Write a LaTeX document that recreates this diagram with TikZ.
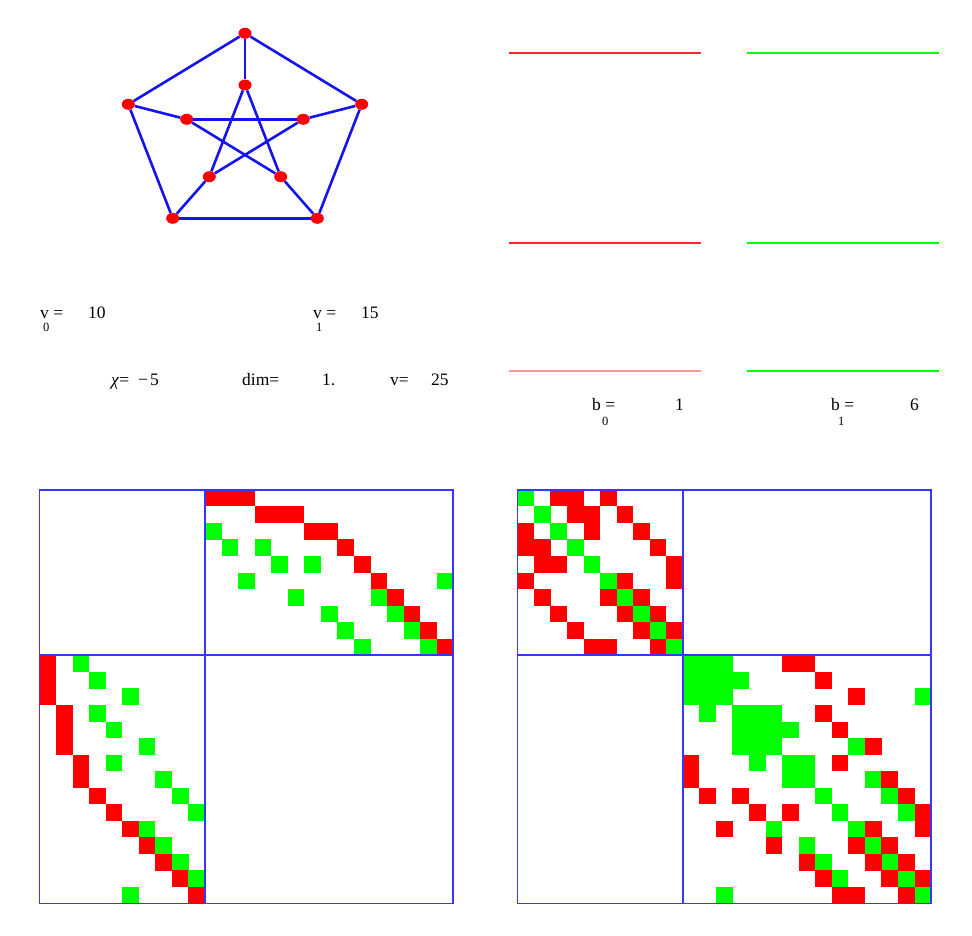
\documentclass[tikz,border=0pt]{standalone}
\usepackage{fontspec}
\setmainfont{Liberation Serif}
\usetikzlibrary{shapes.geometric}
\definecolor{cr}{RGB}{255,0,0}
\definecolor{cg}{RGB}{0,255,0}
\definecolor{eb}{RGB}{20,20,235}
\definecolor{fb}{RGB}{55,55,255}
\newcommand\mcell[5]{\fill[#5] ({#1+(#4)*16.55},{#2+(#3)*16.55}) rectangle ++(16.65,16.65);}
\begin{document}
\begin{tikzpicture}[x=1pt,y=-1pt,
  vdot/.style={ellipse, fill=cr, minimum width=13pt, minimum height=11pt, inner sep=0pt},
  gedge/.style={eb, line width=2.6pt},
  lbl/.style={anchor=base west, inner sep=0pt, font=\fontsize{17.5}{20}\selectfont},
  sublbl/.style={anchor=base west, inner sep=0pt, font=\fontsize{12.5}{14}\selectfont},
  frame/.style={fb, line width=1.6pt}]
\useasboundingbox (0,0) rectangle (972,935);
\fill[white] (0,0) rectangle (972,935);
% Petersen graph
\node[vdot] (o1) at (245,33.3) {};
\node[vdot] (o2) at (361.7,104.3) {};
\node[vdot] (o3) at (317.3,218.3) {};
\node[vdot] (o4) at (172.7,218.3) {};
\node[vdot] (o5) at (128.3,104.3) {};
\node[vdot] (i1) at (245,85) {};
\node[vdot] (i2) at (303.3,119.3) {};
\node[vdot] (i3) at (280.7,176.7) {};
\node[vdot] (i4) at (209.3,176.7) {};
\node[vdot] (i5) at (186.7,119.3) {};
\draw[gedge] (o1) -- (o2);
\draw[gedge] (o2) -- (o3);
\draw[gedge] (o3) -- (o4);
\draw[gedge] (o4) -- (o5);
\draw[gedge] (o5) -- (o1);
\draw[gedge] (o1) -- (i1);
\draw[gedge] (o2) -- (i2);
\draw[gedge] (o3) -- (i3);
\draw[gedge] (o4) -- (i4);
\draw[gedge] (o5) -- (i5);
\draw[gedge] (i1) -- (i3);
\draw[gedge] (i3) -- (i5);
\draw[gedge] (i5) -- (i2);
\draw[gedge] (i2) -- (i4);
\draw[gedge] (i4) -- (i1);
% spectra
\draw[cr!85, line width=1.6pt] (509.3,53) -- (701,53);
\draw[cr!85, line width=1.6pt] (509.3,243) -- (701,243);
\draw[cr!40, line width=1.6pt] (509.3,371) -- (701,371);
\draw[cg, line width=1.6pt] (747.3,53) -- (938.7,53);
\draw[cg, line width=1.6pt] (747.3,243) -- (938.7,243);
\draw[cg, line width=2.2pt] (747.3,371) -- (938.7,371);
% texts
\node[lbl] (v0a) at (40,318) {v =};
\node[sublbl] (v0b) at (43,331) {0};
\node[lbl] (v0c) at (88,318) {10};
\node[lbl] (v1a) at (313,318) {v =};
\node[sublbl] (v1b) at (316,331) {1};
\node[lbl] (v1c) at (361,318) {15};
\node[lbl] (chi) at (111,385) {\textit{χ}=};
\node[lbl] (chiv) at (138,385) {−\kern2pt 5};
\node[lbl] (dim) at (242,385) {dim=};
\node[lbl] (dimv) at (322,385) {1.};
\node[lbl] (vv) at (390,385) {v=};
\node[lbl] (vvv) at (431,385) {25};
\node[lbl] (b0a) at (592,410) {b =};
\node[sublbl] (b0b) at (602,425) {0};
\node[lbl] (b0c) at (675,410) {1};
\node[lbl] (b1a) at (831,410) {b =};
\node[sublbl] (b1b) at (838,425) {1};
\node[lbl] (b1c) at (910,410) {6};
% matrices
\foreach \e/\r/\g in {0/0/2,1/0/3,2/0/5,3/1/3,4/1/4,5/1/6,6/2/4,7/2/7,8/3/8,9/4/9,10/5/6,11/6/7,12/7/8,13/8/9,14/9/5} {
  \mcell{39.5}{489.8}{10+\e}{\r}{cr}
  \mcell{39.5}{489.8}{10+\e}{\g}{cg}
  \mcell{39.5}{489.8}{\r}{10+\e}{cr}
  \mcell{39.5}{489.8}{\g}{10+\e}{cg}
  \mcell{517.3}{489.8}{\r}{\g}{cr}
  \mcell{517.3}{489.8}{\g}{\r}{cr}
}
\foreach \i in {0,...,24} {\mcell{517.3}{489.8}{\i}{\i}{cg}}
\foreach \a/\b/\c in {0/1/cg,0/2/cg,1/2/cg,3/4/cg,3/5/cg,4/5/cg,0/6/cr,0/7/cr,6/7/cg,1/3/cg,1/8/cr,3/8/cr,4/6/cg,4/9/cr,6/9/cr,2/10/cr,2/14/cg,10/14/cr,5/10/cg,5/11/cr,10/11/cr,7/11/cg,7/12/cr,11/12/cr,8/12/cg,8/13/cr,12/13/cr,9/13/cg,9/14/cr,13/14/cr} {
  \mcell{517.3}{489.8}{10+\a}{10+\b}{\c}
  \mcell{517.3}{489.8}{10+\b}{10+\a}{\c}
}
\foreach \X in {39.5,517.3} {
  \draw[frame] (\X,489.8) rectangle ++(413.75,413.75);
  \draw[frame] ({\X+165.5},489.8) -- ++(0,413.75);
  \draw[frame] (\X,655) -- ++(413.75,0);
}
\end{tikzpicture}
\end{document}
